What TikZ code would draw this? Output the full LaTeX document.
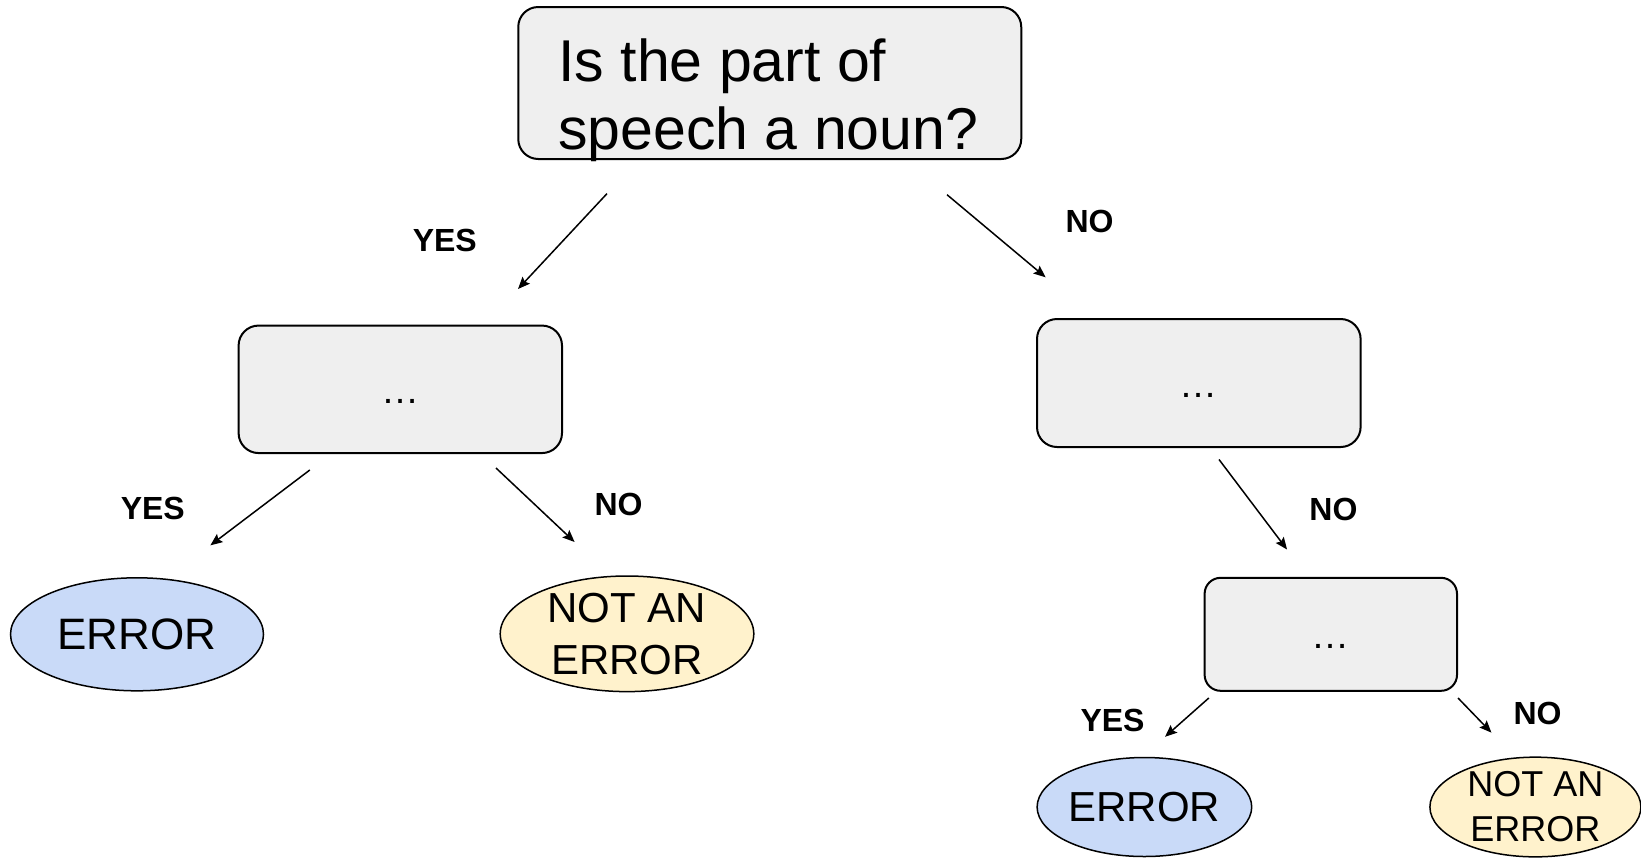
\documentclass[tikz,border=0pt]{standalone}
\usepackage{fontspec}
\setmainfont{Liberation Sans}
\usetikzlibrary{shapes.geometric,arrows.meta}

\definecolor{boxgray}{HTML}{EFEFEF}
\definecolor{errblue}{HTML}{C9DAF8}
\definecolor{okyellow}{HTML}{FFF2CC}

\begin{document}
\begin{tikzpicture}[x=0.5pt,y=-0.5pt,
  qbox/.style={draw, line width=1pt, rounded corners=10pt, fill=boxgray, inner sep=0pt},
  dots/.style={qbox, font=\fontsize{19}{23}\selectfont, text height=14pt, text depth=0pt},
  leaf/.style={ellipse, draw, line width=0.75pt, inner sep=0pt, align=center},
  err/.style={leaf, fill=errblue},
  noerr/.style={leaf, fill=okyellow},
  ans/.style={font=\fontsize{16}{19}\selectfont\bfseries},
  arr/.style={line width=0.75pt, -{Stealth[length=6pt,width=5pt,inset=1pt]}}]

\useasboundingbox (0,0) rectangle (1641,857);

% question and the two follow-up boxes
\node[qbox, minimum width=251.5pt, minimum height=76pt] (q) at (769.75,83) {};
\node[anchor=north west, inner sep=0pt, align=left,
      font=\fontsize{29.5}{34}\selectfont] (qtext) at (558,38.5)
      {Is the part of\\speech a noun?};
\node[dots, minimum width=161.7pt, minimum height=63.75pt] (m1) at (400.3,389.3) {…};
\node[dots, minimum width=161.8pt, minimum height=64pt] (m2) at (1198.8,383) {…};
\node[dots, rounded corners=8pt, minimum width=126.2pt, minimum height=56.5pt] (m3) at (1330.8,634.3) {…};

% leaves
\node[err, minimum width=126.5pt, minimum height=56.5pt, font=\fontsize{22}{26}\selectfont] (e1) at (137,634.3) {ERROR};
\node[noerr, minimum width=126.8pt, minimum height=57pt, font=\fontsize{21}{26}\selectfont] (n1) at (627,633.8) {NOT AN\\ERROR};
\node[err, minimum width=107.3pt, minimum height=49.5pt, font=\fontsize{21}{25}\selectfont] (e2) at (1144.4,807) {ERROR};
\node[noerr, minimum width=105.5pt, minimum height=49.5pt, font=\fontsize{18}{22.5}\selectfont] (n2) at (1535.4,807) {NOT AN\\ERROR};

% arrow ends
\coordinate (a1) at (607,193.6);   \coordinate (b1) at (518,289);
\coordinate (a2) at (947,194.7);   \coordinate (b2) at (1045.6,277.3);
\coordinate (a3) at (309.8,470);   \coordinate (b3) at (210.4,545.3);
\coordinate (a4) at (496,468);     \coordinate (b4) at (574.6,542);
\coordinate (a5) at (1219,459.5);  \coordinate (b5) at (1287,549.5);
\coordinate (a6) at (1208.8,698);  \coordinate (b6) at (1165,736.8);
\coordinate (a7) at (1458,698);    \coordinate (b7) at (1491.4,732.6);

\draw[arr] (a1) -- (b1);
\draw[arr] (a2) -- (b2);
\draw[arr] (a3) -- (b3);
\draw[arr] (a4) -- (b4);
\draw[arr] (a5) -- (b5);
\draw[arr] (a6) -- (b6);
\draw[arr] (a7) -- (b7);

% answers
\node[ans] (l1) at (444.8,240.7) {YES};
\node[ans] (l2) at (1089.5,221.9) {NO};
\node[ans] (l3) at (152.8,508.6) {YES};
\node[ans] (l4) at (618.5,504.5) {NO};
\node[ans] (l5) at (1333.4,509.7) {NO};
\node[ans] (l6) at (1112.5,720) {YES};
\node[ans] (l7) at (1537.5,713.8) {NO};

\end{tikzpicture}
\end{document}
